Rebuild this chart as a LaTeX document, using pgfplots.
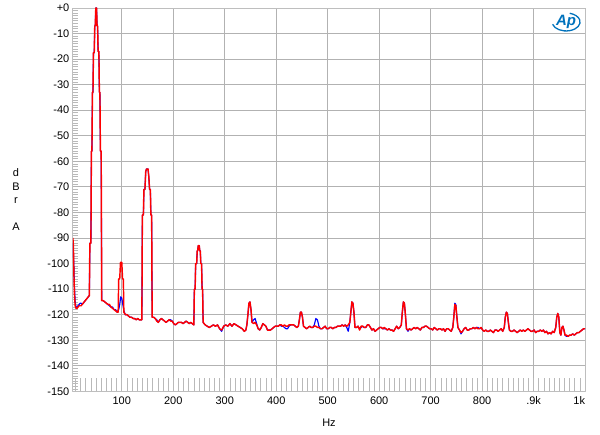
\documentclass[border=0pt]{standalone}
\usepackage{fontspec}
\setmainfont{Liberation Sans}
\usepackage{pgfplots}
\pgfplotsset{compat=1.18}
\definecolor{gridc}{RGB}{178,178,178}
\definecolor{framec}{RGB}{190,190,190}
\definecolor{tickc}{RGB}{185,185,185}
\definecolor{apblue}{RGB}{0,114,188}
\begin{document}
\begin{tikzpicture}
\begin{axis}[
 at={(0,0)}, anchor=south west,
 width=513pt, height=384pt, scale only axis,
 xmin=5, xmax=1000, ymin=-150, ymax=0,
 xtick={100,200,...,1000},
 xticklabels={100,200,300,400,500,600,700,800,.9k,1k\hphantom{1k}},
 ytick={-150,-140,...,0},
 yticklabels={-150,-140,-130,-120,-110,-100,-90,-80,-70,-60,-50,-40,-30,-20,-10,+0},
 grid=major,
 major grid style={gridc, line width=0.8pt},
 axis line style={framec, line width=0.8pt},
 major tick length=0pt,
 minor y tick num=9,
 minor tick length=5pt,
 minor tick style={tickc, line width=0.6pt},
 tick pos=left,
 extra x ticks={10,20,...,990},
 extra x tick labels={},
 extra x tick style={grid=none, major tick length=13pt, tick style={tickc, line width=0.6pt}},
 tick label style={font=\fontsize{11}{13}\selectfont},
 xticklabel style={yshift=-2pt},
 xlabel={Hz},
 xlabel style={font=\fontsize{11}{13}\selectfont, yshift=-7pt},
 line join=round,
]
\addplot[blue, line width=1.15pt] coordinates {
(5,-92)(6,-96)(7,-101)(8,-109)(9.5,-115)(11,-117)(13,-117)(15,-116.5)(17,-116)(19,-115.5)(21,-115.5)(23,-116)(25,-115.5)(27,-115)(29,-114.5)(31,-114)(33,-113.5)(35,-113)(37,-112.5)
(38,-92)(40,-92)(41,-56)(42,-56)(43,-33)(44,-33)(45,-17.5)(46.5,-17.5)(47.5,-7)(48.5,-7)(49.5,0)(51,0)(52,-7)(53,-7)(54,-17)(55.5,-17)(56.5,-33)(57.5,-33)(58.5,-56)(60,-56)(61,-114.5)
(64,-114.5)(67,-115)(70,-115.5)(73,-116)(76,-116.5)(79,-117)(82,-117)(85,-118)(88,-118)(91,-119)(94,-118)(96,-116)(98,-113)(100,-113.5)(102,-116)(104,-118.5)
(107,-120)(110,-120)(113,-120.5)(116,-121)(119,-121)(122,-121.5)(125,-121.5)(128,-122)(131,-121.5)(134,-122)(137,-122)(139,-122)
(140,-81)(142,-81)(143,-71)(145,-71)(146.5,-64)(148,-63)(151,-63)(152.5,-66)(154,-71)(155.5,-71)(156.5,-81)(158,-81)(159,-121)
(162,-121)(165,-121.5)(168,-122)(171,-123)(174,-122)(177,-121.5)(180,-122)(183,-122.5)(186,-123)(189,-122.5)(192,-122)(195,-122)(198,-122.5)(201,-123.5)(204,-124)(207,-123.5)(210,-123)(213,-123)(216,-123)(219,-123.5)(222,-123)(225,-122.5)(228,-123)(231,-123.5)(234,-123)(237,-123.5)(240,-124)
(241,-110)(242.5,-110)(243.5,-100)(245.5,-100)(246.5,-95)(247.5,-95)(248.5,-93)(250.5,-93)(251.5,-95)(252.5,-95)(253.5,-100)(255,-100)(256,-110)(257,-110)(258,-123)
(262,-124)(266,-124.5)(270,-125)(274,-124.5)(278,-124)(282,-124.5)(286,-124)(290,-125.5)(294,-126.5)(298,-124.5)(302,-124)(306,-124.5)(310,-123.5)(314,-124.5)(318,-123.5)(322,-124)(326,-124.5)(330,-125)(334,-125.5)(338,-126.5)(341,-126)
(343,-124)(345,-120)(347,-115.5)(349,-115)(351,-118)(353,-123)
(356,-122)(359,-121.5)(362,-123.5)(365,-125.5)(368,-126)(371,-125)(374,-123.5)(377,-124)(380,-124.5)(383,-126)(386,-126)(389,-126)(392,-125.5)(395,-125)(398,-124.5)(401,-124.5)(404,-124.5)(407,-124)(410,-124.5)(413,-124.5)(416,-125)(419,-125.5)(422,-125.5)(425,-124.5)(428,-124)(431,-124)(434,-124)(437,-124.5)(440,-125)(443,-124.5)
(445,-122)(447,-119)(449,-119)(451,-121)(453,-124.5)
(456,-125)(459,-125.5)(462,-125)(465,-124.5)(468,-125)(471,-125)(474,-124)(477,-121.5)(480,-122)(483,-124.5)(486,-125.5)(489,-125.5)(492,-125)(495,-124.5)(498,-125.5)(501,-125.5)(504,-125)(507,-125)(510,-125.5)(513,-125)(516,-125)(519,-124.5)(522,-124.5)(525,-124.5)(528,-124)(531,-124.5)(534,-124)(537,-125)(540,-126.5)
(543,-123)(545,-119)(547,-115)(549,-115.5)(551,-119)(553,-125)
(556,-125)(559,-124.5)(562,-125.5)(565,-125)(568,-124.5)(571,-125)(574,-125)(577,-124)(580,-124)(583,-125)(586,-126)(589,-125.5)(592,-126.5)(595,-126)(598,-125.5)(601,-125)(604,-125)(607,-125.5)(610,-125.5)(613,-125.5)(616,-126)(619,-125.5)(622,-126)(625,-126)(628,-126.5)(631,-125.5)(634,-124.5)(637,-125.5)(640,-125)
(643,-124)(645,-119)(647,-115)(649,-115.5)(651,-120)(653,-125.5)
(656,-126.5)(659,-125.5)(662,-126)(665,-125.5)(668,-125)(671,-125.5)(674,-125)(677,-125.5)(680,-126)(683,-125)(686,-125)(689,-124.5)(692,-124.5)(695,-125)(698,-125.5)(701,-125.5)(704,-126)(707,-125)(710,-125.5)(713,-126)(716,-125.5)(719,-125.5)(722,-126)(725,-125.5)(728,-126.5)(731,-125.5)(734,-125.5)(737,-126)(740,-126.5)
(743,-125)(745,-121)(747,-115.5)(749,-116)(751,-121)(753,-125)
(756,-126)(759,-127.5)(762,-126.5)(765,-125.5)(768,-125)(771,-126)(774,-126)(777,-125.5)(780,-125.5)(783,-125)(786,-125.5)(789,-125)(792,-125)(795,-125.5)(798,-125)(801,-126)(804,-126.5)(807,-126)(810,-126.5)(813,-126.5)(816,-126)(819,-126.5)(822,-127)(825,-126)(828,-126)(831,-126.5)(834,-126)(837,-125.5)(840,-126.5)
(843,-125)(845,-121)(847,-119)(849,-119.5)(851,-123)(853,-126)
(856,-126.5)(859,-126.5)(862,-126)(865,-126.5)(868,-127)(871,-126.5)(874,-126)(877,-126.5)(880,-126)(883,-126.5)(886,-126)(889,-125.5)(892,-126)(895,-126.5)(898,-126.5)(901,-126)(904,-127)(907,-126.5)(910,-126.5)(913,-126)(916,-126.5)(919,-126)(922,-127)(925,-126.5)(928,-127.5)(931,-127)(934,-127.5)(937,-126.5)(940,-127)
(943,-125)(945,-121)(947,-119.5)(949,-121)(951,-127)(953,-128)(955,-125)(957,-124.5)(959,-126)(961,-128)(964,-128.5)(967,-128.5)(970,-128)(973,-128)(976,-127.5)(979,-128)(982,-127.5)(985,-127)(988,-127)(991,-126.5)(994,-126)(997,-125.5)(1000,-125.5)
};
\addplot[red, line width=1.45pt] coordinates {
(5,-90)(6,-93)(7,-104)(8,-112)(9.5,-116.5)(11,-117.5)(13,-117.5)(15,-117)(17,-116.5)(19,-116.5)(21,-116.5)(23,-116)(25,-115.5)(27,-115)(29,-114.5)(31,-114)(33,-113.5)(35,-113)(37,-112.5)
(38,-92)(40,-92)(41,-56)(42,-56)(43,-33)(44,-33)(45,-17.5)(46.5,-17.5)(47.5,-7)(48.5,-7)(49.5,0)(51,0)(52,-7)(53,-7)(54,-17)(55.5,-17)(56.5,-33)(57.5,-33)(58.5,-56)(60,-56)(61,-114.5)
(64,-114.5)(67,-115)(70,-115.5)(73,-116)(76,-116)(79,-117)(82,-117.5)(85,-118)(88,-118.5)(91,-119)(93,-119)
(94,-106)(96,-106)(97.5,-99.5)(100,-99.5)(101.5,-106)(103,-106)(104,-119)
(107,-120)(110,-120)(113,-120.5)(116,-121)(119,-121)(122,-121.5)(125,-121.5)(128,-122)(131,-121.5)(134,-122)(137,-122)(139,-122)
(140,-81)(142,-81)(143,-71)(145,-71)(146.5,-64)(148,-63)(151,-63)(152.5,-66)(154,-71)(155.5,-71)(156.5,-81)(158,-81)(159,-121)
(162,-121)(165,-121.5)(168,-122.5)(171,-123)(174,-122)(177,-121.5)(180,-122)(183,-122.5)(186,-123)(189,-122.5)(192,-122)(195,-122.5)(198,-122.5)(201,-123.5)(204,-124)(207,-123.5)(210,-123)(213,-123)(216,-123)(219,-123.5)(222,-123)(225,-122.5)(228,-123)(231,-123.5)(234,-123)(237,-123.5)(240,-124)
(241,-110)(242.5,-110)(243.5,-100)(245.5,-100)(246.5,-95)(247.5,-95)(248.5,-93)(250.5,-93)(251.5,-95)(252.5,-95)(253.5,-100)(255,-100)(256,-110)(257,-110)(258,-123)
(262,-124)(266,-124.5)(270,-125)(274,-124.5)(278,-124)(282,-124.5)(286,-124)(290,-125.5)(294,-126)(298,-124.5)(302,-124)(306,-124.5)(310,-123.5)(314,-124.5)(318,-123.5)(322,-124)(326,-124.5)(330,-125)(334,-125.5)(338,-126.5)(341,-126)
(343,-124)(345,-120)(347,-115.5)(349,-115)(351,-118)(353,-123)
(356,-123.5)(359,-123)(362,-124)(365,-125.5)(368,-126)(371,-125)(374,-123.5)(377,-124)(380,-124.5)(383,-126)(386,-126)(389,-126)(392,-125.5)(395,-125)(398,-124.5)(401,-124.5)(404,-124.5)(407,-124)(410,-124)(413,-124.5)(416,-124)(419,-124.5)(422,-124.5)(425,-124)(428,-124)(431,-124)(434,-124)(437,-124.5)(440,-125)(443,-124.5)
(445,-122)(447,-119)(449,-119)(451,-121)(453,-124.5)
(456,-125)(459,-125.5)(462,-125)(465,-124.5)(468,-125)(471,-125)(474,-124.5)(477,-124.5)(480,-125)(483,-125)(486,-125.5)(489,-125.5)(492,-125)(495,-124.5)(498,-125.5)(501,-125.5)(504,-125)(507,-125)(510,-125.5)(513,-125)(516,-125)(519,-124.5)(522,-124.5)(525,-124.5)(528,-124)(531,-124.5)(534,-124)(537,-124.5)(540,-124)
(543,-123)(545,-119)(547,-115)(549,-115.5)(551,-119)(553,-125)
(556,-125)(559,-124.5)(562,-126)(565,-124.5)(568,-124.5)(571,-125)(574,-125)(577,-124)(580,-124)(583,-125)(586,-126)(589,-125.5)(592,-126.5)(595,-126)(598,-125.5)(601,-125)(604,-125)(607,-125.5)(610,-125)(613,-125.5)(616,-126)(619,-125.5)(622,-126)(625,-126)(628,-126.5)(631,-125.5)(634,-124.5)(637,-125.5)(640,-125)
(643,-124)(645,-119)(647,-115)(649,-115.5)(651,-120)(653,-125.5)
(656,-126)(659,-125.5)(662,-126)(665,-125.5)(668,-125)(671,-125.5)(674,-125)(677,-125.5)(680,-126)(683,-125)(686,-125)(689,-124.5)(692,-124.5)(695,-125)(698,-125.5)(701,-125.5)(704,-126)(707,-125)(710,-125.5)(713,-126)(716,-125.5)(719,-125.5)(722,-126)(725,-125.5)(728,-126.5)(731,-125.5)(734,-125.5)(737,-126)(740,-126.5)
(743,-125)(745,-121)(747,-116)(749,-116.5)(751,-121)(753,-125)
(756,-126)(759,-127)(762,-126.5)(765,-125.5)(768,-125)(771,-126)(774,-126)(777,-125.5)(780,-125.5)(783,-125)(786,-125.5)(789,-125)(792,-125.5)(795,-125.5)(798,-125)(801,-126)(804,-126.5)(807,-126)(810,-126.5)(813,-126.5)(816,-126)(819,-126.5)(822,-127)(825,-126)(828,-126)(831,-126.5)(834,-126)(837,-125.5)(840,-126.5)
(843,-125)(845,-121)(847,-119)(849,-119.5)(851,-123)(853,-126)
(856,-126.5)(859,-126.5)(862,-126)(865,-126.5)(868,-127)(871,-126.5)(874,-126)(877,-126.5)(880,-126)(883,-126.5)(886,-126)(889,-125.5)(892,-126)(895,-126.5)(898,-126.5)(901,-126)(904,-127)(907,-126.5)(910,-126.5)(913,-126)(916,-126.5)(919,-126)(922,-127)(925,-126.5)(928,-127.5)(931,-127)(934,-127.5)(937,-126.5)(940,-127)
(943,-125)(945,-121)(947,-119.5)(949,-121)(951,-127)(953,-128)(955,-125)(957,-124.5)(959,-126)(961,-128)(964,-128)(967,-128.5)(970,-128)(973,-128)(976,-127.5)(979,-128)(982,-127.5)(985,-127)(988,-127)(991,-126.5)(994,-126)(997,-125.5)(1000,-125.5)
};
\end{axis}
\node[font=\fontsize{11}{13.6}\selectfont, align=center] at (-57pt,192pt) {d\\B\\r\\~\\A};
\node[apblue, font=\bfseries\itshape\fontsize{15}{15}\selectfont] at (494pt,370pt) {Ap};
\draw[apblue, line width=1.3pt] (494pt,370pt) ++(-165:14pt and 9pt) arc[start angle=-165, end angle=75, x radius=14pt, y radius=9pt];
\path[use as bounding box] (-73pt,-43pt) rectangle (527pt,392pt);
\end{tikzpicture}
\end{document}
